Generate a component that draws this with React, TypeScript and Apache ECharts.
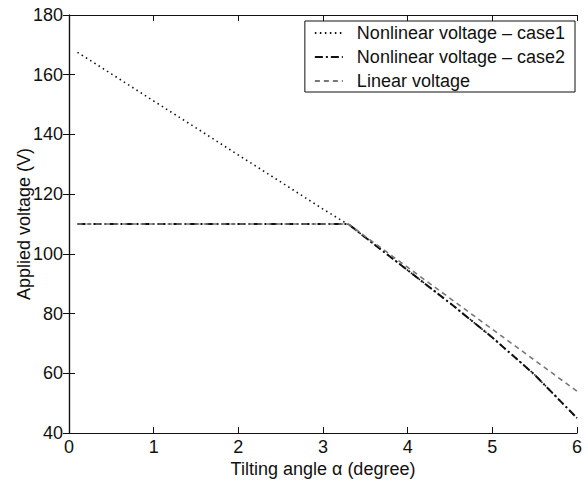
import React, { useEffect, useRef } from "react";
import * as echarts from "echarts";

const case1Angles = [0.1, 0.5, 1, 1.5, 2, 2.5, 3, 3.3, 3.5, 4, 4.5, 5, 5.5, 6];
const case1Volts = [167.5, 160.3, 151.2, 142.2, 133.1, 124.1, 115, 109.8, 105.5, 94.5, 83.5, 72, 59.5, 45];
const case2Angles = [0.1, 3.3, 3.5, 4, 4.5, 5, 5.5, 6];
const case2Volts = [110, 110, 105.5, 94.5, 83.5, 72, 59.5, 45];
const linearAngles = [0.1, 3.3, 6];
const linearVolts = [110, 110, 54];
const seriesNames = ["Nonlinear voltage \u2013 case1", "Nonlinear voltage \u2013 case2", "Linear voltage"];

const pairs = (xs: number[], ys: number[]) => xs.map((x, i) => [x, ys[i]]);

export default function App() {
  const ref = useRef<HTMLDivElement>(null);
  useEffect(() => {
    if (!ref.current) return;
    const chart = echarts.init(ref.current, null, { renderer: "svg" });
    const font = "Liberation Sans";
    const axisLine = { show: true, lineStyle: { color: "#111", width: 1.2 } };
    const tick = { show: true, inside: true, length: 6, lineStyle: { color: "#111", width: 1 } };
    chart.setOption({
      animation: false,
      backgroundColor: "#fff",
      grid: { left: 69, right: 11, top: 15, bottom: 50, containLabel: false },
      legend: {
        orient: "vertical",
        right: 13,
        top: 21,
        itemWidth: 28,
        itemHeight: 10,
        itemGap: 6,
        padding: [3, 10, 2, 9],
        borderColor: "#111",
        borderWidth: 1,
        backgroundColor: "#fff",
        itemStyle: { opacity: 0 },
        textStyle: { fontFamily: font, fontSize: 18, color: "#111", padding: [0, 0, 0, 9] },
        data: seriesNames,
      },
      xAxis: [
        {
          type: "value", min: 0, max: 6, interval: 1, position: "bottom",
          axisLine, axisTick: tick, splitLine: { show: false },
          axisLabel: { fontFamily: font, fontSize: 18, color: "#111", margin: 5 },
          name: "Tilting angle \u03b1 (degree)", nameLocation: "middle", nameGap: 27,
          nameMoveOverlap: false,
          nameTextStyle: { fontFamily: font, fontSize: 18, color: "#111" },
        },
        {
          type: "value", min: 0, max: 6, interval: 1, position: "top",
          axisLine, axisTick: tick, splitLine: { show: false }, axisLabel: { show: false },
        },
      ],
      yAxis: [
        {
          type: "value", min: 40, max: 180, interval: 20, position: "left",
          axisLine, axisTick: tick, splitLine: { show: false },
          axisLabel: { fontFamily: font, fontSize: 18, color: "#111", margin: 6 },
          name: "Applied voltage (V)", nameLocation: "middle", nameGap: 36,
          nameMoveOverlap: false,
          nameTextStyle: { fontFamily: font, fontSize: 18, color: "#111" },
        },
        {
          type: "value", min: 40, max: 180, interval: 20, position: "right",
          axisLine, axisTick: tick, splitLine: { show: false }, axisLabel: { show: false },
        },
      ],
      series: [
        {
          name: seriesNames[0], type: "line", showSymbol: false, symbol: "none",
          data: pairs(case1Angles, case1Volts),
          lineStyle: { color: "#111", width: 1.6, type: [1.5, 3.5] },
          itemStyle: { color: "#111" },
        },
        {
          name: seriesNames[1], type: "line", showSymbol: false, symbol: "none",
          data: pairs(case2Angles, case2Volts),
          lineStyle: { color: "#111", width: 2, type: [8, 3, 2, 3] },
          itemStyle: { color: "#111" },
        },
        {
          name: seriesNames[2], type: "line", showSymbol: false, symbol: "none",
          data: pairs(linearAngles, linearVolts),
          lineStyle: { color: "#777", width: 1.6, type: [5, 4] },
          itemStyle: { color: "#777" },
        },
      ],
    });
    return () => chart.dispose();
  }, []);
  return <div ref={ref} style={{ width: 588, height: 483, position: "absolute", left: 0, top: 0 }} />;
}
